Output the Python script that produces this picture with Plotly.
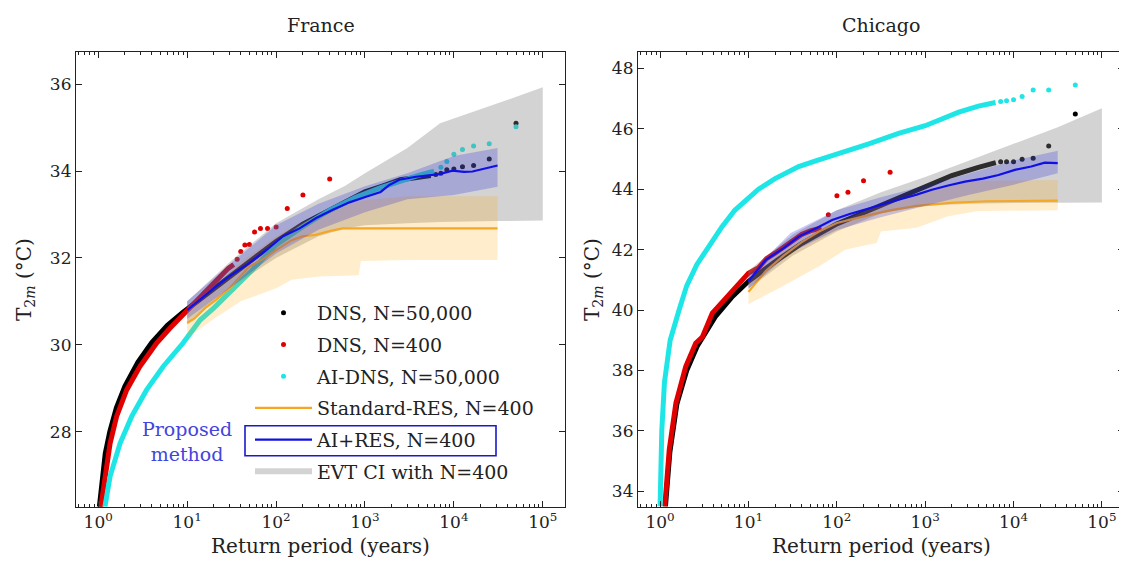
import plotly.graph_objects as go

FONT = "DejaVu Serif"

# ---------------- France ----------------
fr_dns50k_dense_T = [1.03, 1.1, 1.2, 1.35, 1.6, 2.0, 2.8, 4.0, 6.0, 9.0, 10, 20, 50, 100, 200, 400, 700, 1000, 1600, 2500, 4000, 5500]
fr_dns50k_dense_v = [26.27, 26.9, 27.5, 28.0, 28.55, 29.05, 29.6, 30.05, 30.45, 30.75, 30.82, 31.3, 31.92, 32.38, 32.78, 33.1, 33.38, 33.52, 33.66, 33.8, 33.86, 33.9]
fr_dns50k_tail_T = [6250, 7143, 8333, 10000, 12500, 16667, 25000, 50001]
fr_dns50k_tail_v = [33.92, 33.95, 34.03, 34.05, 34.10, 34.13, 34.28, 35.10]

fr_dns400_dense_T = [1.07, 1.19, 1.36, 1.61, 2.09, 2.94, 4.54, 6.4, 9.4, 12, 15, 19, 24, 29, 33.4]
fr_dns400_dense_v = [26.27, 26.97, 27.73, 28.35, 28.96, 29.5, 30.04, 30.38, 30.73, 30.95, 31.15, 31.4, 31.6, 31.76, 31.85]
fr_dns400_tail_T = [36.5, 40.1, 44.6, 50.1, 57.3, 66.8, 80.2, 100.25, 133.7, 200.5, 401]
fr_dns400_tail_v = [31.97, 32.15, 32.30, 32.31, 32.60, 32.68, 32.68, 32.71, 33.14, 33.45, 33.82]

fr_aidns_dense_T = [1.19, 1.36, 1.76, 2.38, 3.5, 5.38, 9.0, 14, 20, 30, 50, 100, 200, 400, 800, 1500, 2500, 4000, 6000]
fr_aidns_dense_v = [26.27, 26.97, 27.73, 28.35, 28.96, 29.5, 30.04, 30.57, 30.85, 31.2, 31.65, 32.3, 32.72, 33.1, 33.4, 33.62, 33.78, 33.9, 34.0]
fr_aidns_tail_T = [7143, 8333, 10000, 12500, 16667, 25000, 50001]
fr_aidns_tail_v = [34.09, 34.22, 34.39, 34.50, 34.58, 34.63, 35.02]

fr_std_T = [10, 12, 16, 21, 30, 50, 75, 100, 150, 200, 280, 400, 560, 800, 2000, 10000, 31000]
fr_std_v = [30.5, 30.6, 30.85, 31.03, 31.3, 31.8, 32.0, 32.18, 32.41, 32.5, 32.53, 32.62, 32.68, 32.68, 32.68, 32.68, 32.68]
fr_std_band_T = [10, 20, 40, 100, 150, 300, 850, 900, 3000, 31000]
fr_std_band_lo = [30.15, 30.6, 31.0, 31.3, 31.5, 31.57, 31.6, 31.93, 31.95, 31.95]
fr_std_band_hi = [30.85, 31.35, 31.9, 32.5, 32.7, 33.0, 33.3, 33.32, 33.42, 33.42]

fr_ai_T = [10, 14, 21, 30, 50, 80, 120, 184, 283, 435, 670, 1030, 1500, 1880, 2440, 3760, 6860, 9670, 13000, 16200, 22900, 31000]
fr_ai_v = [30.8, 31.05, 31.34, 31.58, 31.88, 32.2, 32.5, 32.68, 32.92, 33.11, 33.28, 33.41, 33.52, 33.68, 33.8, 33.87, 33.93, 34.01, 33.98, 33.99, 34.07, 34.13]
fr_ai_band_T = [10, 30, 100, 300, 1000, 3000, 10000, 31000]
fr_ai_band_lo = [30.6, 31.3, 32.1, 32.65, 33.05, 33.35, 33.45, 33.64]
fr_ai_band_hi = [31.0, 31.85, 32.75, 33.25, 33.65, 33.95, 34.35, 34.53]

fr_evt_T = [10, 30, 100, 300, 600, 1000, 3000, 7000, 30000, 100000]
fr_evt_lo = [30.5, 31.3, 32.0, 32.5, 32.68, 32.75, 32.8, 32.83, 32.85, 32.86]
fr_evt_hi = [31.0, 31.9, 32.8, 33.35, 33.66, 33.95, 34.53, 35.1, 35.55, 35.93]

# ---------------- Chicago ----------------
ch_dns50k_dense_T = [1.15, 1.29, 1.55, 2.0, 2.63, 4.27, 6.6, 10, 20, 40, 100, 250, 500, 1000, 2000, 4000, 6300]
ch_dns50k_dense_v = [33.5, 35.3, 36.9, 38.0, 38.8, 39.8, 40.45, 40.95, 41.6, 42.2, 42.85, 43.35, 43.7, 44.1, 44.45, 44.72, 44.88]
ch_dns50k_tail_T = [7143, 8333, 10000, 12500, 16667, 25000, 50001]
ch_dns50k_tail_v = [44.91, 44.91, 44.91, 44.99, 45.02, 45.43, 46.49]

ch_dns400_dense_T = [1.13, 1.27, 1.51, 1.95, 2.53, 3.0, 3.9, 4.5, 6.5, 8.0, 10, 13, 16, 20, 26, 33, 40, 50, 62, 67]
ch_dns400_dense_v = [33.5, 35.38, 36.92, 38.13, 38.9, 39.1, 39.9, 40.1, 40.67, 40.9, 41.22, 41.4, 41.7, 41.88, 42.1, 42.3, 42.5, 42.62, 42.71, 42.72]
ch_dns400_tail_T = [80.2, 100.25, 133.7, 200.5, 401]
ch_dns400_tail_v = [43.15, 43.78, 43.90, 44.28, 44.56]

ch_aidns_dense_T = [1.0, 1.01, 1.045, 1.12, 1.2, 1.3, 1.64, 2.0, 2.6, 3.5, 5.0, 7.0, 10, 13, 20, 37, 60, 100, 230, 500, 1000, 2400, 4000, 6250]
ch_aidns_dense_v = [33.5, 34.6, 36.0, 37.6, 38.3, 39.0, 40.0, 40.8, 41.5, 42.05, 42.75, 43.3, 43.7, 44.0, 44.35, 44.75, 44.95, 45.15, 45.5, 45.85, 46.1, 46.55, 46.75, 46.87]
ch_aidns_tail_T = [7143, 8333, 10000, 12500, 16667, 25000, 50001]
ch_aidns_tail_v = [46.90, 46.93, 46.96, 47.07, 47.28, 47.28, 47.45]

ch_std_T = [10, 15.8, 25, 40, 63, 100, 200, 400, 800, 2000, 5000, 31620]
ch_std_v = [40.6, 41.3, 41.8, 42.25, 42.6, 42.88, 43.1, 43.3, 43.45, 43.55, 43.6, 43.62]
ch_std_band_T = [10, 25, 63, 126, 282, 316, 794, 1820, 3980, 31620]
ch_std_band_lo = [40.2, 40.8, 41.45, 42.0, 42.22, 42.6, 42.72, 43.1, 43.28, 43.3]
ch_std_band_hi = [41.0, 41.95, 42.6, 43.0, 43.45, 43.5, 43.85, 44.15, 44.28, 44.3]

ch_ai_T = [10, 15.7, 25, 37, 60, 88.5, 140, 209, 330, 500, 800, 1190, 1820, 2820, 4500, 6760, 10350, 15850, 22540, 31620]
ch_ai_v = [40.95, 41.66, 42.05, 42.43, 42.72, 42.98, 43.18, 43.32, 43.5, 43.65, 43.82, 43.98, 44.12, 44.25, 44.35, 44.47, 44.64, 44.75, 44.88, 44.86]
ch_ai_band_T = [10, 30, 100, 300, 1000, 3000, 10000, 31620]
ch_ai_band_lo = [40.7, 41.9, 42.65, 43.05, 43.45, 43.8, 44.15, 44.53]
ch_ai_band_hi = [41.15, 42.55, 43.3, 43.72, 44.12, 44.5, 44.95, 45.27]

ch_evt_T = [10, 31.6, 100, 316, 1000, 3160, 10000, 31620, 100000]
ch_evt_lo = [40.7, 41.8, 42.6, 43.2, 43.45, 43.52, 43.54, 43.55, 43.56]
ch_evt_hi = [41.3, 42.5, 43.3, 43.9, 44.4, 44.95, 45.5, 46.05, 46.68]

# ---------------- labels ----------------
panel_titles = ["France", "Chicago"]
x_title = "Return period (years)"
y_title = "T<sub>2<i>m</i></sub> (°C)"
legend_names = ["DNS, N=50,000", "DNS, N=400", "AI-DNS, N=50,000",
                "Standard-RES, N=400", "AI+RES, N=400", "EVT CI with N=400"]
proposed_text = "Proposed<br>method"
x_tickvals = [1, 10, 100, 1000, 10000, 100000]
x_ticktext = ["10<sup>0</sup>", "10<sup>1</sup>", "10<sup>2</sup>",
              "10<sup>3</sup>", "10<sup>4</sup>", "10<sup>5</sup>"]
fr_y_ticks = [28, 30, 32, 34, 36]
ch_y_ticks = [34, 36, 38, 40, 42, 44, 46, 48]

C_BLACK = "#000000"
C_RED = "#e00000"
C_CYAN = "#1ee6e6"
C_ORANGE = "#f5a623"
C_BLUE = "#1010e6"
F_GRAY = "rgba(128,128,128,0.35)"
F_ORANGE = "rgba(255,165,0,0.2)"
F_BLUE = "rgba(20,20,220,0.22)"

fig = go.Figure()


def band(T, lo, hi):
    return list(T) + list(T)[::-1], list(hi) + list(lo)[::-1]


def add_panel(xa, ya, d, legend):
    common = dict(xaxis=xa, yaxis=ya, hoverinfo="skip")
    fig.add_trace(go.Scatter(x=d["dns50k_dense"][0], y=d["dns50k_dense"][1], mode="lines",
                             line=dict(color=C_BLACK, width=5), showlegend=False, **common))
    fig.add_trace(go.Scatter(x=d["dns50k_tail"][0], y=d["dns50k_tail"][1], mode="markers",
                             marker=dict(color=C_BLACK, size=5), name=legend_names[0],
                             showlegend=legend, legendrank=1, legendgroup="g1", **common))
    fig.add_trace(go.Scatter(x=d["dns400_dense"][0], y=d["dns400_dense"][1], mode="lines",
                             line=dict(color=C_RED, width=5), showlegend=False, **common))
    fig.add_trace(go.Scatter(x=d["dns400_tail"][0], y=d["dns400_tail"][1], mode="markers",
                             marker=dict(color=C_RED, size=5), name=legend_names[1],
                             showlegend=legend, legendrank=2, legendgroup="g2", **common))
    fig.add_trace(go.Scatter(x=d["aidns_dense"][0], y=d["aidns_dense"][1], mode="lines",
                             line=dict(color=C_CYAN, width=5), showlegend=False, **common))
    fig.add_trace(go.Scatter(x=d["aidns_tail"][0], y=d["aidns_tail"][1], mode="markers",
                             marker=dict(color=C_CYAN, size=5), name=legend_names[2],
                             showlegend=legend, legendrank=3, legendgroup="g3", **common))
    bx, by = band(*d["evt"])
    fig.add_trace(go.Scatter(x=bx, y=by, fill="toself", fillcolor=F_GRAY, mode="none",
                             line=dict(width=0), name=legend_names[5],
                             showlegend=legend, legendrank=6, legendgroup="g6", **common))
    bx, by = band(*d["std_band"])
    fig.add_trace(go.Scatter(x=bx, y=by, fill="toself", fillcolor=F_ORANGE, mode="none",
                             line=dict(width=0), showlegend=False, **common))
    fig.add_trace(go.Scatter(x=d["std"][0], y=d["std"][1], mode="lines",
                             line=dict(color=C_ORANGE, width=2.2), name=legend_names[3],
                             showlegend=legend, legendrank=4, legendgroup="g4", **common))
    bx, by = band(*d["ai_band"])
    fig.add_trace(go.Scatter(x=bx, y=by, fill="toself", fillcolor=F_BLUE, mode="none",
                             line=dict(width=0), showlegend=False, **common))
    fig.add_trace(go.Scatter(x=d["ai"][0], y=d["ai"][1], mode="lines",
                             line=dict(color=C_BLUE, width=2.2), name=legend_names[4],
                             showlegend=legend, legendrank=5, legendgroup="g5", **common))


fr = dict(dns50k_dense=(fr_dns50k_dense_T, fr_dns50k_dense_v), dns50k_tail=(fr_dns50k_tail_T, fr_dns50k_tail_v),
          dns400_dense=(fr_dns400_dense_T, fr_dns400_dense_v), dns400_tail=(fr_dns400_tail_T, fr_dns400_tail_v),
          aidns_dense=(fr_aidns_dense_T, fr_aidns_dense_v), aidns_tail=(fr_aidns_tail_T, fr_aidns_tail_v),
          std=(fr_std_T, fr_std_v), std_band=(fr_std_band_T, fr_std_band_lo, fr_std_band_hi),
          ai=(fr_ai_T, fr_ai_v), ai_band=(fr_ai_band_T, fr_ai_band_lo, fr_ai_band_hi),
          evt=(fr_evt_T, fr_evt_lo, fr_evt_hi))
ch = dict(dns50k_dense=(ch_dns50k_dense_T, ch_dns50k_dense_v), dns50k_tail=(ch_dns50k_tail_T, ch_dns50k_tail_v),
          dns400_dense=(ch_dns400_dense_T, ch_dns400_dense_v), dns400_tail=(ch_dns400_tail_T, ch_dns400_tail_v),
          aidns_dense=(ch_aidns_dense_T, ch_aidns_dense_v), aidns_tail=(ch_aidns_tail_T, ch_aidns_tail_v),
          std=(ch_std_T, ch_std_v), std_band=(ch_std_band_T, ch_std_band_lo, ch_std_band_hi),
          ai=(ch_ai_T, ch_ai_v), ai_band=(ch_ai_band_T, ch_ai_band_lo, ch_ai_band_hi),
          evt=(ch_evt_T, ch_evt_lo, ch_evt_hi))

add_panel("x", "y", fr, True)
add_panel("x2", "y2", ch, False)

# The page body has an 8px margin, so the figure is 8px smaller and coords are screen - 8
OFF = 8
W, H = 1127 - OFF, 562 - OFF


def px(x):
    return (x - OFF) / W


def py(y):
    return 1 - (y - OFF) / H


minor_vals = [k * 10 ** p for p in range(-1, 6) for k in range(2, 10)]

axis_common = dict(showline=True, linecolor="#222", linewidth=1.2, mirror="ticks",
                   ticks="inside", ticklen=6, tickwidth=1, tickcolor="#222",
                   showgrid=False, zeroline=False, tickfont=dict(size=17, family=FONT, color="#222"))
xcommon = dict(type="log", range=[-0.25, 5.25], tickmode="array", tickvals=x_tickvals, ticktext=x_ticktext,
               minor=dict(tickmode="array", tickvals=minor_vals, ticks="inside", ticklen=3,
                          tickcolor="#222", showgrid=False), **axis_common)

ydom = [py(506.7), py(51.7)]
fig.update_layout(
    width=W, height=H, margin=dict(l=0, r=0, t=0, b=0),
    plot_bgcolor="white", paper_bgcolor="white",
    font=dict(family=FONT, color="#222"),
    xaxis=dict(domain=[px(76), px(565)], anchor="y", **xcommon),
    yaxis=dict(domain=ydom, anchor="x", range=[26.27, 36.75], tickmode="array", tickvals=fr_y_ticks, **axis_common),
    xaxis2=dict(domain=[px(638), px(1124)], anchor="y2", **xcommon),
    yaxis2=dict(domain=ydom, anchor="x2", range=[33.49, 48.55], tickmode="array", tickvals=ch_y_ticks, **axis_common),
    legend=dict(x=px(250), y=py(294), xanchor="left", yanchor="top", bgcolor="rgba(0,0,0,0)",
                font=dict(size=19, family=FONT, color="#222"), tracegroupgap=4, traceorder="grouped",
                itemwidth=57),
    showlegend=True,
)


def ann(text, x, y, size, color="#222", angle=0):
    return dict(text=text, x=px(x), y=py(y), xref="paper", yref="paper", xanchor="center", yanchor="middle",
                showarrow=False, textangle=angle, align="center", font=dict(size=size, family=FONT, color=color))


annotations = [
    ann(panel_titles[0], (76 + 565) / 2, 25, 19),
    ann(panel_titles[1], (638 + 1124) / 2, 25, 19),
    ann(x_title, (76 + 565) / 2, 546, 20),
    ann(x_title, (638 + 1124) / 2, 546, 20),
    ann(y_title, 25, 280, 20, angle=-90),
    ann(y_title, 593, 280, 20, angle=-90),
    ann(proposed_text, 187, 441.5, 19, color="#4444dd"),
]
fig.update_layout(annotations=annotations)

fig.add_shape(type="rect", xref="paper", yref="paper",
              x0=px(245), x1=px(496), y0=py(455.7), y1=py(425.7),
              line=dict(color="#1a1acc", width=1.6), fillcolor="rgba(0,0,0,0)")

fig.write_html("out.html")
